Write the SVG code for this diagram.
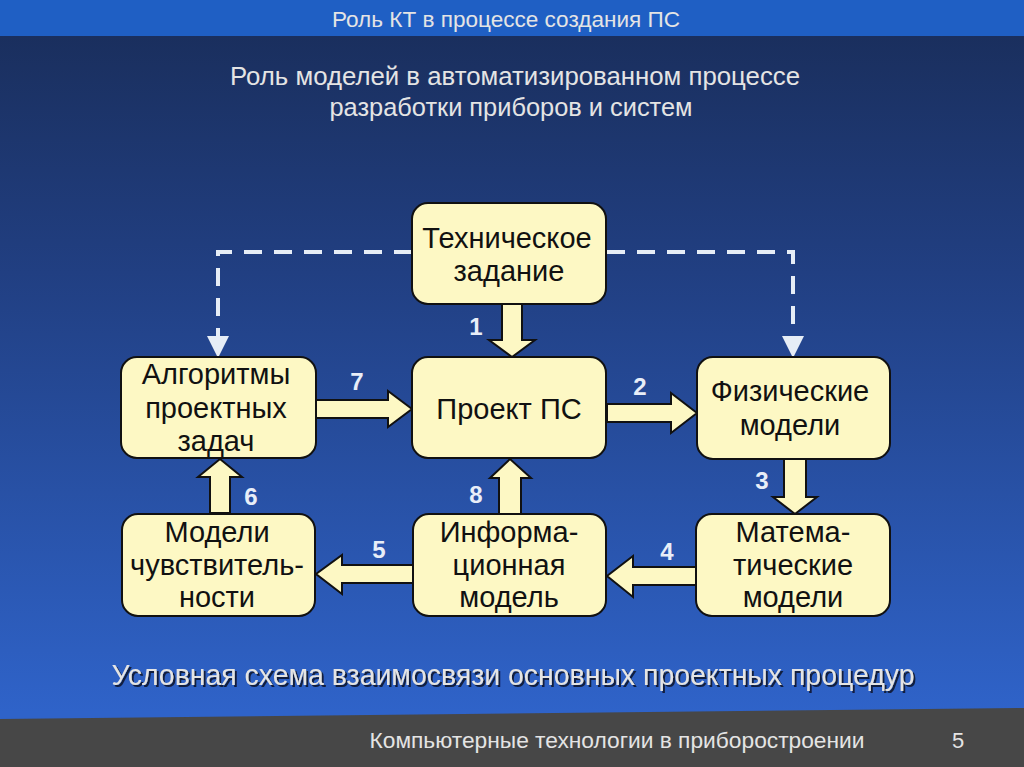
<svg xmlns="http://www.w3.org/2000/svg" width="1024" height="767" viewBox="0 0 1024 767">
<defs>
<linearGradient id="bg" x1="0" y1="36" x2="0" y2="712" gradientUnits="userSpaceOnUse">
<stop offset="0" stop-color="#1a2f5e"/>
<stop offset="0.35" stop-color="#213f82"/>
<stop offset="1" stop-color="#2f63c9"/>
</linearGradient>
<filter id="shadow" x="-5%" y="-30%" width="110%" height="160%">
<feDropShadow dx="2" dy="2" stdDeviation="0.6" flood-color="#0a1530" flood-opacity="0.9"/>
</filter>
<marker id="dashHead" viewBox="0 0 22 22" refX="0" refY="11" markerWidth="22" markerHeight="22" markerUnits="userSpaceOnUse" orient="auto">
<path d="M0,0 L22,11 L0,22 Z" fill="#e6edf6"/>
</marker>
<style>
.box{fill:#fdf8c4;stroke:#111;stroke-width:2}
.arrow{fill:#fdf8c4;stroke:#111;stroke-width:2;stroke-linejoin:miter}
.dash{fill:none;stroke:#e6edf6;stroke-width:4;stroke-dasharray:18 12}
.lbl{font-family:"Liberation Sans",Arial,sans-serif;font-size:29px;fill:#111;text-anchor:middle}
.num{font-family:"Liberation Sans",Arial,sans-serif;font-size:24px;font-weight:bold;fill:#e8eef8;text-anchor:middle}
.head{font-family:"Liberation Sans",Arial,sans-serif;fill:#e4e4e4;text-anchor:middle}
</style>
</defs>
<rect x="0" y="0" width="1024" height="767" fill="url(#bg)"/>
<rect x="0" y="0" width="1024" height="36" fill="#1f5fc4"/>
<polygon points="0,719 1024,708 1024,767 0,767" fill="#474747"/>

<text class="head" x="506" y="27" font-size="22" textLength="348" lengthAdjust="spacingAndGlyphs" fill="#dcdcdc">Роль КТ в процессе создания ПС</text>
<text class="head" x="515" y="85" font-size="26" textLength="570" lengthAdjust="spacingAndGlyphs" fill="#ececec">Роль моделей в автоматизированном процессе</text>
<text class="head" x="511" y="116" font-size="26" textLength="363" lengthAdjust="spacingAndGlyphs" fill="#ececec">разработки приборов и систем</text>

<g id="connectors">
<path class="dash" d="M412,252 H218 V336" marker-end="url(#dashHead)"/>
<path class="dash" d="M607,252 H793 V336" marker-end="url(#dashHead)"/>
<polygon class="arrow" points="502,304 522,304 522,340 535,340 512,357 489,340 502,340"/>
<polygon class="arrow" points="316,400 388,400 388,391 412,409 388,427 388,418 316,418"/>
<polygon class="arrow" points="607,404 671,404 671,393 697,413 671,433 671,422 607,422"/>
<polygon class="arrow" points="784,459 806,459 806,497 817,497 795,514 773,497 784,497"/>
<polygon class="arrow" points="499,514 499,478 490,478 510,459 531,478 521,478 521,514"/>
<polygon class="arrow" points="696,567 633,567 633,556 607,576 633,597 633,585 696,585"/>
<polygon class="arrow" points="210,513 210,477 198,477 220,459 242,477 230,477 230,513"/>
<polygon class="arrow" points="413,565 342,565 342,555 316,574 342,594 342,583 413,583"/>
<text class="num" x="476" y="335">1</text>
<text class="num" x="640" y="395">2</text>
<text class="num" x="762" y="489">3</text>
<text class="num" x="667" y="560">4</text>
<text class="num" x="379" y="558">5</text>
<text class="num" x="251" y="505">6</text>
<text class="num" x="357" y="390">7</text>
<text class="num" x="476" y="503">8</text>
</g>

<g id="tz">
<rect class="box" x="412" y="203" width="194" height="101" rx="16"/>
<text class="lbl" x="507" y="248">Техническое</text>
<text class="lbl" x="509" y="281">задание</text>
</g>
<g id="algo">
<rect class="box" x="121" y="357" width="195" height="101" rx="16"/>
<text class="lbl" x="216" y="384">Алгоритмы</text>
<text class="lbl" x="216" y="418">проектных</text>
<text class="lbl" x="216" y="451">задач</text>
</g>
<g id="proekt">
<rect class="box" x="412" y="357" width="194" height="101" rx="16"/>
<text class="lbl" x="509" y="419">Проект ПС</text>
</g>
<g id="fiz">
<rect class="box" x="697" y="357" width="193" height="102" rx="16"/>
<text class="lbl" x="790" y="401">Физические</text>
<text class="lbl" x="790" y="435">модели</text>
</g>
<g id="sens">
<rect class="box" x="122" y="514" width="193" height="102" rx="16"/>
<text class="lbl" x="217" y="542">Модели</text>
<text class="lbl" x="217" y="575">чувствитель-</text>
<text class="lbl" x="217" y="607">ности</text>
</g>
<g id="info">
<rect class="box" x="413" y="514" width="193" height="102" rx="16"/>
<text class="lbl" x="509" y="542">Информа-</text>
<text class="lbl" x="509" y="575">ционная</text>
<text class="lbl" x="509" y="607">модель</text>
</g>
<g id="math">
<rect class="box" x="696" y="514" width="194" height="102" rx="16"/>
<text class="lbl" x="793" y="542">Матема-</text>
<text class="lbl" x="793" y="575">тические</text>
<text class="lbl" x="793" y="607">модели</text>
</g>

<text class="head" x="513" y="685" font-size="30" textLength="803" lengthAdjust="spacingAndGlyphs" fill="#ffffff" filter="url(#shadow)">Условная схема взаимосвязи основных проектных процедур</text>
<text class="head" x="617" y="748" font-size="22" textLength="495" lengthAdjust="spacingAndGlyphs" fill="#f3dca6">Компьютерные технологии в приборостроении</text>
<text class="head" x="958" y="748" font-size="22" fill="#f3dca6">5</text>
</svg>
